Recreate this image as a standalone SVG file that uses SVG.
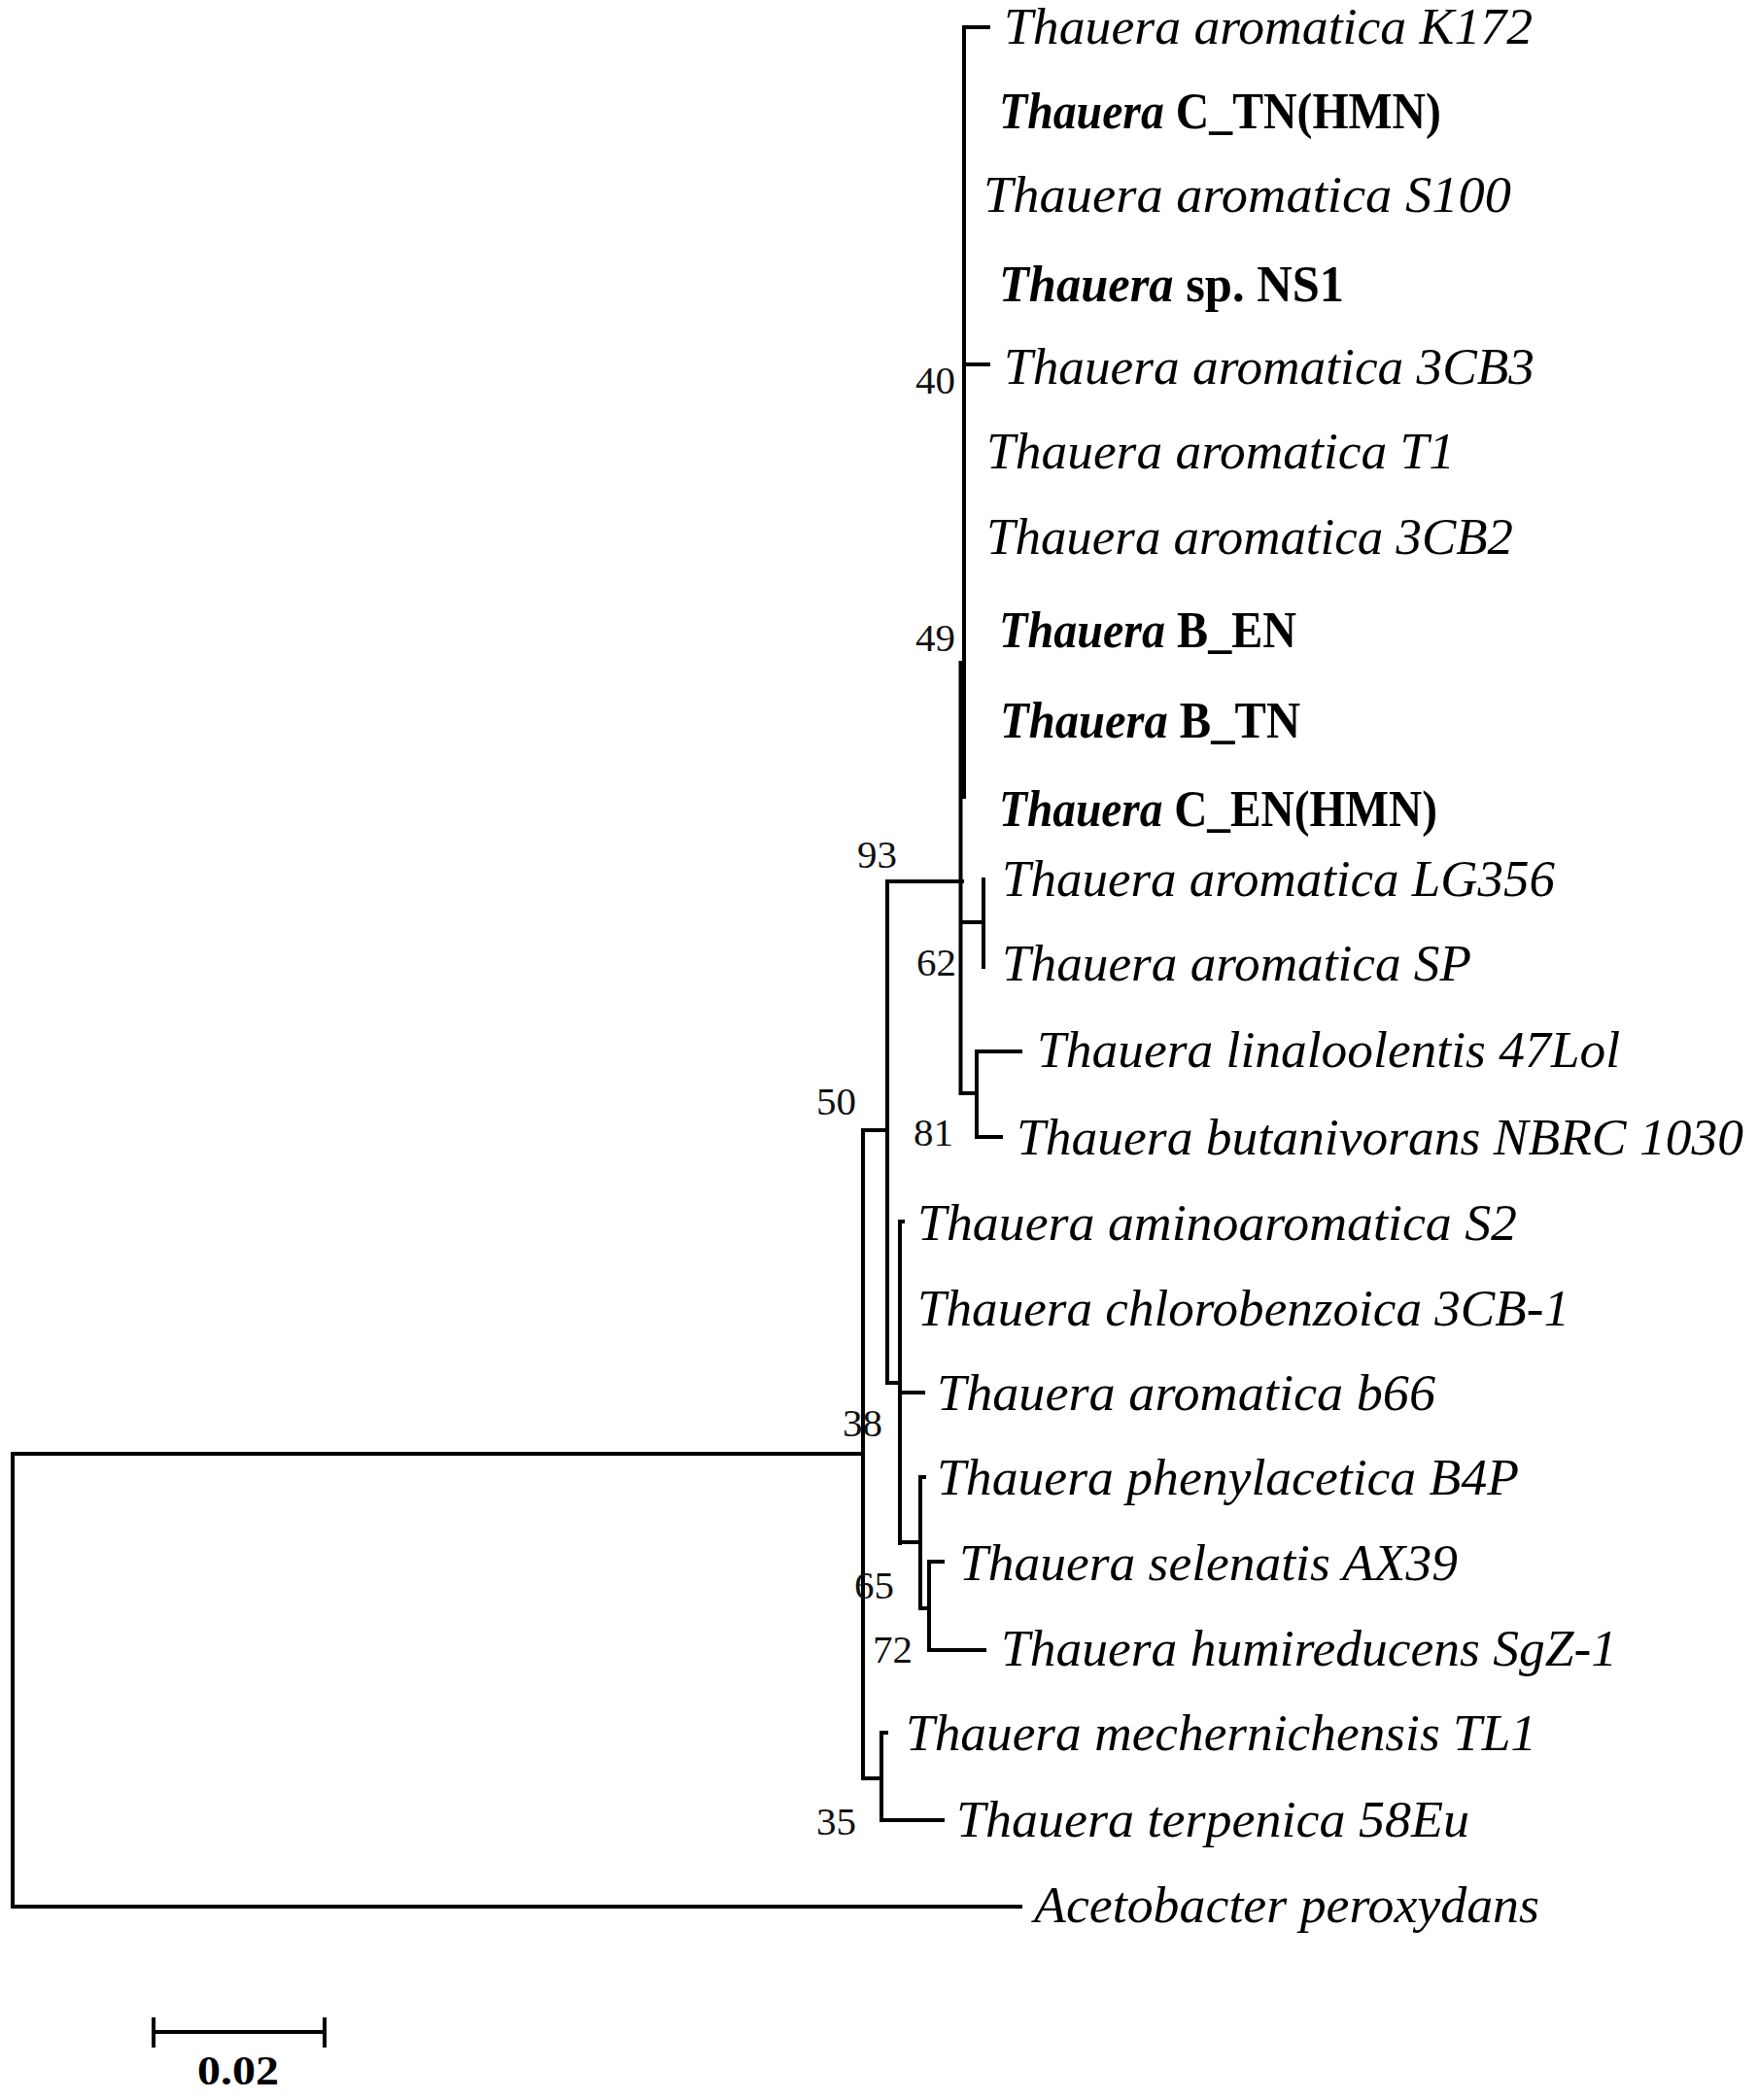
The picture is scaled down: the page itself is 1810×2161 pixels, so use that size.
<svg xmlns="http://www.w3.org/2000/svg" width="1810" height="2161" viewBox="0 0 1810 2161">
<style>
.bg{fill:#ffffff}
.br{fill:none;stroke:#000;stroke-width:4;stroke-linecap:square}
.lf{font-family:"Liberation Serif","Times New Roman",serif;font-size:52px;font-style:italic;fill:#000}
.bd{font-weight:bold}
.up{font-style:normal}
.bs{font-family:"Liberation Serif","Times New Roman",serif;font-size:41px;fill:#111}
.sc{font-family:"Liberation Serif","Times New Roman",serif;font-size:42px;font-weight:bold;fill:#000}
</style>
<rect class="bg" x="0" y="0" width="1810" height="2161"/>
<g id="connectors">
<path class="br" d="M992 28 V820"/>
<path class="br" d="M988.5 682 V1125"/>
<path class="br" d="M993 28 H1017"/>
<path class="br" d="M992 375 H1017"/>
<path class="br" d="M913 907 H990"/>
<path class="br" d="M989 949 H1012 M1012 905 V995"/>
<path class="br" d="M989 1125 H1005 M1005 1082 V1170 M1005 1082 H1050 M1005 1170 H1030"/>
<path class="br" d="M913 907 V1423 M888 1163 H913"/>
<path class="br" d="M913 1423 H926 M926 1257 V1588 M926 1257 H929 M926 1433 H950"/>
<path class="br" d="M926 1587 H947 M947 1520 V1655 M947 1520 H951 M947 1655 H956 M956 1607 V1698 M956 1607 H970 M956 1698 H1013"/>
<path class="br" d="M888 1163 V1830 H907 M907 1783 V1873 M907 1783 H912 M907 1873 H970"/>
<path class="br" d="M888 1496 H13 V1962 H1050"/>
</g>
<g id="leaf-k172"><text class="lf" x="1033" y="45" textLength="544" lengthAdjust="spacingAndGlyphs">Thauera aromatica K172</text></g>
<g id="leaf-c-tn"><text class="lf bd" x="1028" y="132" textLength="455" lengthAdjust="spacingAndGlyphs">Thauera<tspan class="up"> C_TN(HMN)</tspan></text></g>
<g id="leaf-s100"><text class="lf" x="1012" y="218" textLength="543" lengthAdjust="spacingAndGlyphs">Thauera aromatica S100</text></g>
<g id="leaf-ns1"><text class="lf bd" x="1028" y="310" textLength="355" lengthAdjust="spacingAndGlyphs">Thauera<tspan class="up"> sp. NS1</tspan></text></g>
<g id="leaf-3cb3"><text class="lf" x="1033" y="395" textLength="546" lengthAdjust="spacingAndGlyphs">Thauera aromatica 3CB3</text></g>
<g id="leaf-t1"><text class="lf" x="1015" y="482" textLength="482" lengthAdjust="spacingAndGlyphs">Thauera aromatica T1</text></g>
<g id="leaf-3cb2"><text class="lf" x="1015" y="570" textLength="542" lengthAdjust="spacingAndGlyphs">Thauera aromatica 3CB2</text></g>
<g id="leaf-b-en"><text class="lf bd" x="1028" y="666" textLength="306" lengthAdjust="spacingAndGlyphs">Thauera<tspan class="up"> B_EN</tspan></text></g>
<g id="leaf-b-tn"><text class="lf bd" x="1029" y="759" textLength="309" lengthAdjust="spacingAndGlyphs">Thauera<tspan class="up"> B_TN</tspan></text></g>
<g id="leaf-c-en"><text class="lf bd" x="1028" y="850" textLength="451" lengthAdjust="spacingAndGlyphs">Thauera<tspan class="up"> C_EN(HMN)</tspan></text></g>
<g id="leaf-lg356"><text class="lf" x="1031" y="922" textLength="569" lengthAdjust="spacingAndGlyphs">Thauera aromatica LG356</text></g>
<g id="leaf-sp"><text class="lf" x="1031" y="1009" textLength="483" lengthAdjust="spacingAndGlyphs">Thauera aromatica SP</text></g>
<g id="leaf-47lol"><text class="lf" x="1067" y="1098" textLength="600" lengthAdjust="spacingAndGlyphs">Thauera linaloolentis 47Lol</text></g>
<g id="leaf-nbrc"><text class="lf" x="1046" y="1188" textLength="748" lengthAdjust="spacingAndGlyphs">Thauera butanivorans NBRC 1030</text></g>
<g id="leaf-s2"><text class="lf" x="944" y="1276" textLength="617" lengthAdjust="spacingAndGlyphs">Thauera aminoaromatica S2</text></g>
<g id="leaf-3cb1"><text class="lf" x="944" y="1364" textLength="671" lengthAdjust="spacingAndGlyphs">Thauera chlorobenzoica 3CB-1</text></g>
<g id="leaf-b66"><text class="lf" x="964" y="1451" textLength="513" lengthAdjust="spacingAndGlyphs">Thauera aromatica b66</text></g>
<g id="leaf-b4p"><text class="lf" x="964" y="1538" textLength="599" lengthAdjust="spacingAndGlyphs">Thauera phenylacetica B4P</text></g>
<g id="leaf-ax39"><text class="lf" x="987" y="1626" textLength="513" lengthAdjust="spacingAndGlyphs">Thauera selenatis AX39</text></g>
<g id="leaf-sgz1"><text class="lf" x="1030" y="1714" textLength="634" lengthAdjust="spacingAndGlyphs">Thauera humireducens SgZ-1</text></g>
<g id="leaf-tl1"><text class="lf" x="932" y="1801" textLength="649" lengthAdjust="spacingAndGlyphs">Thauera mechernichensis TL1</text></g>
<g id="leaf-58eu"><text class="lf" x="984" y="1890" textLength="528" lengthAdjust="spacingAndGlyphs">Thauera terpenica 58Eu</text></g>
<g id="leaf-aceto"><text class="lf" x="1064" y="1978" textLength="520" lengthAdjust="spacingAndGlyphs">Acetobacter peroxydans</text></g>
<g id="bootstrap">
<text class="bs" x="942" y="405">40</text>
<text class="bs" x="942" y="670">49</text>
<text class="bs" x="882" y="893">93</text>
<text class="bs" x="943" y="1004">62</text>
<text class="bs" x="840" y="1147">50</text>
<text class="bs" x="940" y="1179">81</text>
<text class="bs" x="867" y="1478">38</text>
<text class="bs" x="879" y="1645">65</text>
<text class="bs" x="898" y="1711">72</text>
<text class="bs" x="840" y="1888">35</text>
</g>
<g id="scale-bar">
<path class="br" d="M158 2091 H334 M158 2078 V2105 M334 2078 V2105"/>
<text class="sc" x="203" y="2145" textLength="84" lengthAdjust="spacingAndGlyphs">0.02</text>
</g>
</svg>
